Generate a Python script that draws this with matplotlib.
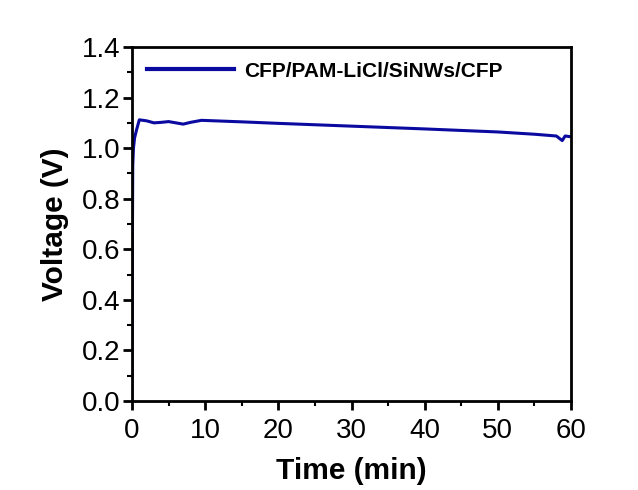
import numpy as np
import matplotlib
matplotlib.use("Agg")
import matplotlib.pyplot as plt
from matplotlib.ticker import MultipleLocator

plt.rcParams['font.family'] = ['Liberation Sans', 'DejaVu Sans']

# discharge curve
time_min = [0.0, 0.05, 0.1, 0.2, 0.35, 0.6, 1.0, 2.0, 3.0, 4.0, 5.0, 6.0, 7.0,
            8.0, 9.5, 15, 20, 30, 40, 50, 55, 58, 58.8, 59.2, 60.0]
voltage = [0.0, 0.6, 0.93, 1.0, 1.04, 1.07, 1.112, 1.108, 1.100, 1.102, 1.105,
           1.100, 1.095, 1.102, 1.110, 1.104, 1.098, 1.087, 1.076, 1.064,
           1.055, 1.048, 1.03, 1.048, 1.045]
label = "CFP/PAM-LiCl/SiNWs/CFP"

fig = plt.figure(figsize=(6.38, 4.9), dpi=100)
ax = fig.add_axes([132/638, 1-401/490, (571-132)/638, (401-47)/490])

ax.plot(time_min, voltage, color='#0a0aa0', lw=2.2, label=label)

ax.set_xlim(0, 60)
ax.set_ylim(0, 1.4)
ax.xaxis.set_major_locator(MultipleLocator(10))
ax.xaxis.set_minor_locator(MultipleLocator(5))
ax.yaxis.set_major_locator(MultipleLocator(0.2))
ax.yaxis.set_minor_locator(MultipleLocator(0.1))
ax.yaxis.set_major_formatter(matplotlib.ticker.FormatStrFormatter('%.1f'))

for s in ax.spines.values():
    s.set_linewidth(2)
ax.tick_params(which='major', direction='out', length=6.5, width=2, labelsize=20)
ax.tick_params(axis='y', which='major', pad=2)
ax.tick_params(axis='x', which='major', pad=6)
ax.tick_params(which='minor', direction='out', length=3.5, width=1.5)

ax.set_xlabel("Time (min)", fontsize=21.5, fontweight='bold', labelpad=9)
ax.set_ylabel("Voltage (V)", fontsize=21.5, fontweight='bold', labelpad=9)

leg = ax.legend(loc='upper left', frameon=False, prop={'size': 15, 'weight': 'bold'},
                handlelength=4.2, borderaxespad=0.3, handletextpad=0.5)
leg.get_lines()[0].set_linewidth(3)

fig.savefig("out.png", dpi=100)
